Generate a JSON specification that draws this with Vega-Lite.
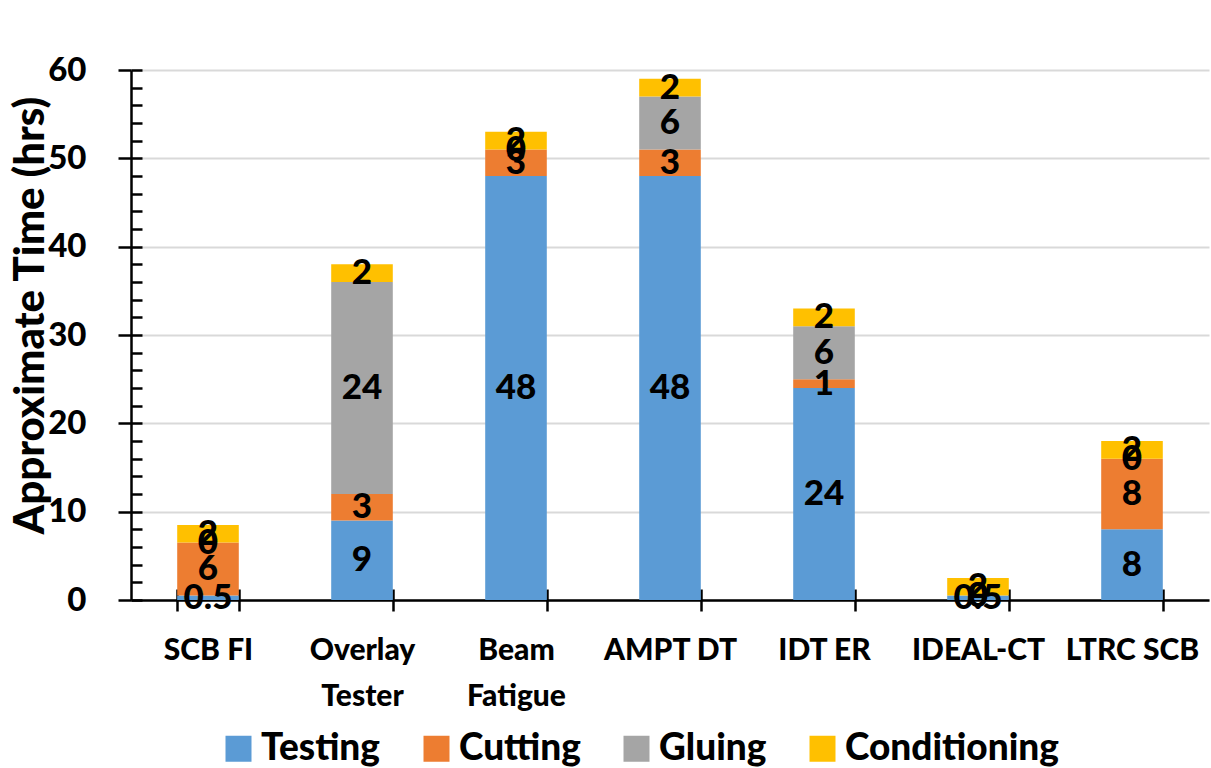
{
  "$schema": "https://vega.github.io/schema/vega-lite/v6.json",
  "width": 1078,
  "height": 530,
  "autosize": {"type": "none"},
  "padding": {"left": 131, "top": 70, "right": 2, "bottom": 168},
  "background": "white",
  "config": {
    "font": "Lato",
    "view": {"stroke": null},
    "axis": {"labelFont": "Lato", "titleFont": "Lato", "labelFontWeight": 900, "titleFontWeight": 900, "labelColor": "black", "titleColor": "black"}
  },
  "data": {
    "values": [
      {"test": "SCB FI", "task": "Testing", "order": 1, "hours": 0.5},
      {"test": "SCB FI", "task": "Cutting", "order": 2, "hours": 6},
      {"test": "SCB FI", "task": "Gluing", "order": 3, "hours": 0},
      {"test": "SCB FI", "task": "Conditioning", "order": 4, "hours": 2},
      {"test": "Overlay Tester", "task": "Testing", "order": 1, "hours": 9},
      {"test": "Overlay Tester", "task": "Cutting", "order": 2, "hours": 3},
      {"test": "Overlay Tester", "task": "Gluing", "order": 3, "hours": 24},
      {"test": "Overlay Tester", "task": "Conditioning", "order": 4, "hours": 2},
      {"test": "Beam Fatigue", "task": "Testing", "order": 1, "hours": 48},
      {"test": "Beam Fatigue", "task": "Cutting", "order": 2, "hours": 3},
      {"test": "Beam Fatigue", "task": "Gluing", "order": 3, "hours": 0},
      {"test": "Beam Fatigue", "task": "Conditioning", "order": 4, "hours": 2},
      {"test": "AMPT DT", "task": "Testing", "order": 1, "hours": 48},
      {"test": "AMPT DT", "task": "Cutting", "order": 2, "hours": 3},
      {"test": "AMPT DT", "task": "Gluing", "order": 3, "hours": 6},
      {"test": "AMPT DT", "task": "Conditioning", "order": 4, "hours": 2},
      {"test": "IDT ER", "task": "Testing", "order": 1, "hours": 24},
      {"test": "IDT ER", "task": "Cutting", "order": 2, "hours": 1},
      {"test": "IDT ER", "task": "Gluing", "order": 3, "hours": 6},
      {"test": "IDT ER", "task": "Conditioning", "order": 4, "hours": 2},
      {"test": "IDEAL-CT", "task": "Testing", "order": 1, "hours": 0.5},
      {"test": "IDEAL-CT", "task": "Cutting", "order": 2, "hours": 0},
      {"test": "IDEAL-CT", "task": "Gluing", "order": 3, "hours": 0},
      {"test": "IDEAL-CT", "task": "Conditioning", "order": 4, "hours": 2},
      {"test": "LTRC SCB", "task": "Testing", "order": 1, "hours": 8},
      {"test": "LTRC SCB", "task": "Cutting", "order": 2, "hours": 8},
      {"test": "LTRC SCB", "task": "Gluing", "order": 3, "hours": 0},
      {"test": "LTRC SCB", "task": "Conditioning", "order": 4, "hours": 2}
    ]
  },
  "transform": [
    {"stack": "hours", "groupby": ["test"], "sort": [{"field": "order"}], "as": ["y0", "y1"]},
    {"calculate": "(datum.y0 + datum.y1) / 2", "as": "ymid"}
  ],
  "resolve": {"axis": {"x": "independent", "y": "independent"}},
  "layer": [
    {
      "mark": {"type": "bar"},
      "encoding": {
        "x": {
          "field": "test", "type": "nominal",
          "sort": ["SCB FI", "Overlay Tester", "Beam Fatigue", "AMPT DT", "IDT ER", "IDEAL-CT", "LTRC SCB"],
          "scale": {"paddingInner": 0.6, "paddingOuter": 0.3},
          "axis": {
            "orient": "bottom",
            "title": null, "labelAngle": 0, "labelFontSize": 30, "labelPadding": 24,
            "labelLineHeight": 46, "labelBaseline": "top",
            "labelExpr": "datum.value == 'Overlay Tester' ? ['Overlay', 'Tester'] : datum.value == 'Beam Fatigue' ? ['Beam', 'Fatigue'] : datum.value",
            "tickBand": "extent", "tickSize": 11, "tickColor": "black", "tickWidth": 2.5,
            "domainColor": "black", "domainWidth": 2.5, "grid": false
          }
        },
        "y": {
          "field": "y0", "type": "quantitative",
          "scale": {"domain": [0, 60], "nice": false},
          "axis": {
            "orient": "left",
            "title": "Approximate Time (hrs)", "titleFontSize": 42, "titlePadding": -5, "titleY": 245,
            "labelFontSize": 33, "labelPadding": 32, "values": [0, 10, 20, 30, 40, 50, 60],
            "tickSize": 13, "tickColor": "black", "tickWidth": 2.5,
            "domainColor": "black", "domainWidth": 2.5,
            "grid": true, "gridColor": "#d9d9d9", "gridWidth": 2
          }
        },
        "y2": {"field": "y1"},
        "color": {
          "field": "task", "type": "nominal",
          "sort": ["Testing", "Cutting", "Gluing", "Conditioning"],
          "scale": {"domain": ["Testing", "Cutting", "Gluing", "Conditioning"], "range": ["#5B9BD5", "#ED7D31", "#A5A5A5", "#FFC000"]},
          "legend": {
            "title": null, "orient": "none", "direction": "horizontal", "columns": 4,
            "legendX": 89, "legendY": 660, "padding": 0,
            "symbolType": "square", "symbolSize": 676, "symbolStrokeWidth": 0,
            "labelFontSize": 37, "labelFontWeight": 900, "labelFont": "Lato", "labelColor": "black",
            "labelOffset": 4, "columnPadding": 37, "labelLimit": 400
          }
        }
      }
    },
    {
      "mark": {"type": "text", "fontSize": 35, "fontWeight": 900, "color": "black", "baseline": "middle", "align": "center"},
      "encoding": {
        "x": {
          "field": "test", "type": "nominal",
          "sort": ["SCB FI", "Overlay Tester", "Beam Fatigue", "AMPT DT", "IDT ER", "IDEAL-CT", "LTRC SCB"],
          "axis": {
            "orient": "bottom", "title": null, "labels": false, "domain": false, "grid": false,
            "tickBand": "extent", "tickSize": -11, "tickColor": "black", "tickWidth": 2.5
          }
        },
        "y": {
          "field": "ymid", "type": "quantitative",
          "axis": {
            "orient": "left", "title": null, "labels": false, "domain": false, "grid": false,
            "values": [0, 2, 4, 6, 8, 10, 12, 14, 16, 18, 20, 22, 24, 26, 28, 30, 32, 34, 36, 38, 40, 42, 44, 46, 48, 50, 52, 54, 56, 58, 60],
            "tickSize": -11, "tickColor": "black", "tickWidth": 2.5
          }
        },
        "text": {"field": "hours", "type": "quantitative"}
      }
    }
  ]
}
